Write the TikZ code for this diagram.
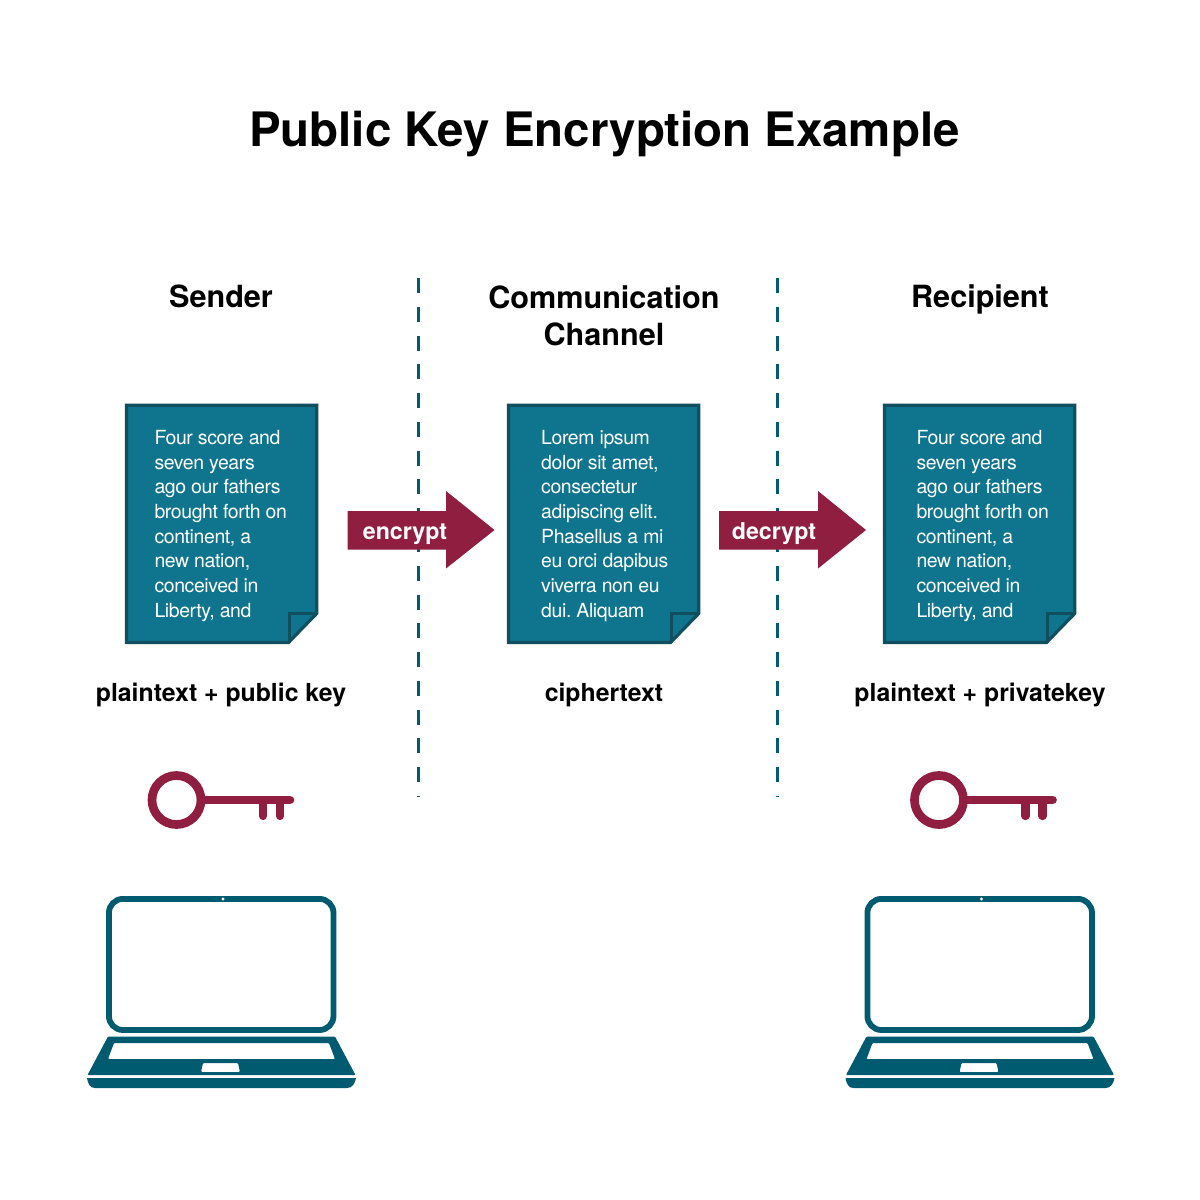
\documentclass[tikz,border=0pt]{standalone}
\usepackage{fontspec}
\setmainfont{TeX Gyre Heros}
\newfontfamily\docfont[LetterSpace=-2.0]{TeX Gyre Heros}
\frenchspacing
\definecolor{docfill}{HTML}{0F748E}
\definecolor{docline}{HTML}{114F5E}
\definecolor{teal}{HTML}{005B70}
\definecolor{maroon}{HTML}{8F1E40}
\tikzset{
  x=1pt,y=-1pt,
  titletext/.style={font=\fontsize{47.45}{50}\bfseries\selectfont,anchor=center,inner sep=0},
  headtext/.style={font=\fontsize{30.6}{37}\bfseries\selectfont,align=center,anchor=base,inner sep=0},
  captext/.style={font=\fontsize{24.8}{28}\bfseries\selectfont,anchor=base,inner sep=0},
  arrowtext/.style={font=\fontsize{23.2}{28}\bfseries\selectfont,text=white,anchor=base,inner sep=0},
  doctext/.style={font=\docfont\fontsize{19.45}{24.65}\selectfont,text=white,align=left,anchor=north west,inner sep=0},
  docpage/.style={fill=docfill,draw=docline,line width=3.2pt,line join=miter},
  sep/.style={draw=teal,line width=3pt,dash pattern=on 15pt off 13.78pt},
  arrowshape/.style={fill=maroon},
  keyline/.style={draw=maroon,line width=8.7pt,line cap=round},
  screenbox/.style={draw=teal,line width=5.8pt,rounded corners=14pt,fill=white},
}
\newcommand{\docshape}[1]{%
  \path[docpage] (#1,405.2) -- ++(190.2,0) -- ++(0,208.3) -- ++(-28.2,29) -- ++(-162,0) -- cycle;
  \draw[docline,line width=3.2pt] (#1+190.2,613.5) -- (#1+163,613.5) -- (#1+163,642.5);
}
\newcommand{\keyshape}[1]{%
  \begin{scope}[shift={(#1,0)}]
    \draw[keyline] (200,800) -- (290,800);
    \draw[keyline,line width=8.3pt] (263,802) -- (263,816);
    \draw[keyline,line width=8.3pt] (280,802) -- (280,816);
    \draw[maroon,line width=8.7pt,fill=white] (176.5,800) circle (24.5);
  \end{scope}
}
\newcommand{\laptopshape}[1]{%
  \begin{scope}[shift={(#1,0)}]
    \draw[screenbox] (108.9,898.9) rectangle (333.5,1030);
    \fill[white] (223,899) circle (1.6);
    \fill[teal,even odd rule,rounded corners=1pt]
      (108,1036.5) -- (335,1036.5) -- (355.5,1075) -- (87.5,1075) -- cycle
      (114,1043) -- (329,1043) -- (335,1059) -- (108,1059) -- cycle
      (203,1063) -- (238,1063) -- (240,1072) -- (201,1072) -- cycle;
    \fill[teal] (87,1078) -- (356,1078) .. controls (355,1084) and (352,1088) .. (347,1088) -- (95,1088) .. controls (90,1088) and (88,1084) .. (87,1078) -- cycle;
  \end{scope}
}
\begin{document}
\begin{tikzpicture}
\useasboundingbox[fill=white] (0,0) rectangle (1200,1200);
\node[titletext,anchor=base] (title) at (604.5,146) {Public Key Encryption Example};

\draw[sep] (418.5,278) -- (418.5,797);
\draw[sep] (777.5,278) -- (777.5,797);

\node[headtext] (sender) at (221,307) {Sender};
\node[headtext,anchor=north] (channel) at (604,285) {Communication\\Channel};
\node[headtext] (recipient) at (980,307) {Recipient};

\docshape{126.5}
\docshape{508.5}
\docshape{884.5}
\node[doctext] (plainA) at (154.3,430.2) {Four score and\\seven years\\ago our fathers\\brought forth on\\continent, a\\new nation,\\conceived in\\Liberty, and};
\node[doctext] (cipher) at (541,430.2) {Lorem ipsum\\dolor sit amet,\\consectetur\\adipiscing elit.\\Phasellus a mi\\eu orci dapibus\\viverra non eu\\dui. Aliquam};
\node[doctext] (plainB) at (916.3,430.2) {Four score and\\seven years\\ago our fathers\\brought forth on\\continent, a\\new nation,\\conceived in\\Liberty, and};

\fill[arrowshape] (347.5,511) -- (446,511) -- (446,491) -- (494.5,530) -- (446,568.5) -- (446,549.5) -- (347.5,549.5) -- cycle;
\fill[arrowshape] (719,511) -- (818,511) -- (818,491) -- (866,530) -- (818,568.5) -- (818,549.5) -- (719,549.5) -- cycle;
\node[arrowtext] (encrypt) at (405,539) {encrypt};
\node[arrowtext] (decrypt) at (774,539) {decrypt};

\node[captext] (capA) at (221,701) {plaintext + public key};
\node[captext] (capB) at (604,701) {ciphertext};
\node[captext] (capC) at (980,701) {plaintext + privatekey};

\keyshape{0}
\keyshape{762.5}
\laptopshape{0}
\laptopshape{758.5}
\end{tikzpicture}
\end{document}
